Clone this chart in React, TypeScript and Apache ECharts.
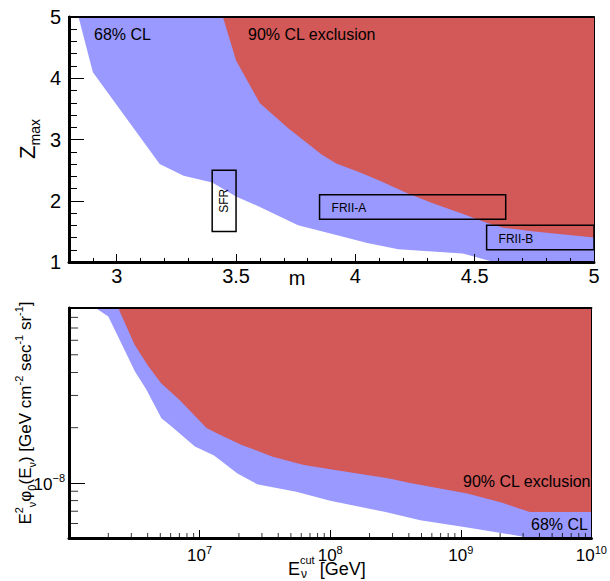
import React, { useEffect, useRef } from "react";
import * as echarts from "echarts";

// ---------- top panel: Zmax vs m ----------
const topBlueM = [2.84, 2.9, 3.18, 3.28, 3.4, 3.5, 3.6, 3.76, 3.92, 4.05, 4.18, 4.45, 4.58, 5.0];
const topBlueZ = [5.0, 4.1, 2.6, 2.41, 2.3, 2.07, 1.9, 1.6, 1.44, 1.31, 1.21, 1.14, 1.0, 1.0];
const topRedM = [3.445, 3.5, 3.6, 3.72, 3.86, 3.92, 4.02, 4.1, 4.22, 4.33, 4.44, 4.55, 4.62, 4.75, 5.0];
const topRedZ = [5.0, 4.29, 3.59, 3.18, 2.75, 2.61, 2.46, 2.33, 2.12, 1.95, 1.8, 1.64, 1.56, 1.5, 1.4];

const boxNames = ["SFR", "FRII-A", "FRII-B"];
const boxM0 = [3.4, 3.85, 4.55];
const boxM1 = [3.5, 4.63, 5.0];
const boxZ0 = [1.5, 1.7, 1.2];
const boxZ1 = [2.5, 2.1, 1.6];

// ---------- bottom panel: flux vs E_cut ----------
const botBlueE = [1.6e6, 2.0e6, 3.2e6, 3.9e6, 5.1e6, 6.1e6, 9.2e6, 1.29e7, 1.95e7, 2.75e7, 5.5e7, 1.0e8, 2.65e8, 4.9e8, 1.12e9, 2.2e9, 3.4e9, 1e10];
const botBlueF = [9e-8, 8.1e-8, 4.05e-8, 3.24e-8, 2.25e-8, 2.03e-8, 1.58e-8, 1.41e-8, 1.125e-8, 9.84e-9, 8.93e-9, 7.98e-9, 6.93e-9, 6.25e-9, 5.7e-9, 5.28e-9, 5.0e-9, 5.0e-9];
const botRedE = [2.38e6, 3.18e6, 3.98e6, 5.07e6, 7.0e6, 1.13e7, 1.39e7, 2.1e7, 3.63e7, 6.28e7, 1.09e8, 2.84e8, 4.0e8, 1.12e9, 2.08e9, 3.37e9, 1e10];
const botRedF = [9e-8, 5.68e-8, 4.41e-8, 3.5e-8, 2.84e-8, 1.99e-8, 1.85e-8, 1.61e-8, 1.39e-8, 1.25e-8, 1.175e-8, 1.057e-8, 1.0e-8, 8.75e-9, 7.78e-9, 6.93e-9, 6.93e-9];

const logXMantissas = [2, 3, 4, 5, 6, 7, 8, 9];
const logXDecades = [1e6, 1e7, 1e8, 1e9];
const logXLabelledExps = [7, 8, 9, 10];
const logYLabelledExps = [-8];
const logYMinorTicks = [6e-9, 7e-9, 8e-9, 9e-9, 2e-8, 3e-8, 4e-8, 5e-8, 6e-8, 7e-8, 8e-8];

const FONT = "Liberation Sans, Arial, sans-serif";
const BLUE = "#9999ff";
const RED = "#d35858";

const zip = (a: number[], b: number[]) => a.map((v, i) => [v, b[i]]);

export default function App() {
  const ref = useRef<HTMLDivElement>(null);
  useEffect(() => {
    if (!ref.current) return;
    const chart = echarts.init(ref.current, null, { renderer: "svg" });

    const xMinor: number[] = [];
    logXDecades.forEach((d) => logXMantissas.forEach((m) => xMinor.push(m * d)));

    const frameLine = (w: number) => ({ show: true, onZero: false, lineStyle: { color: "#000", width: w } });
    const powLabel = (allowed: number[]) => (v: number) => {
      const l = Math.log10(v);
      const e = Math.round(l);
      if (Math.abs(l - e) > 1e-6 || allowed.indexOf(e) < 0) return "";
      return "{b|10}{s|" + String(e).replace("-", "\u2212") + "}";
    };
    const richTick = {
      b: { fontSize: 17, fontFamily: FONT, color: "#000", lineHeight: 20, verticalAlign: "bottom" },
      s: { fontSize: 11, fontFamily: FONT, color: "#000", lineHeight: 9, verticalAlign: "top" },
    };

    const option: any = {
      animation: false,
      grid: [
        { left: 69, top: 17, width: 525, height: 245 },
        { left: 69, top: 308, width: 525, height: 230 },
      ],
      xAxis: [
        {
          type: "value", gridIndex: 0, min: 2.8, max: 5, splitNumber: 5, z: 10,
          axisLine: frameLine(3),
          axisTick: { show: true, inside: true, length: 8, lineStyle: { color: "#000", width: 1 } },
          minorTick: { show: true, splitNumber: 5, length: 4, lineStyle: { color: "#000", width: 1 } },
          splitLine: { show: false },
          axisLabel: { show: true, showMinLabel: false, fontSize: 20, fontFamily: FONT, color: "#000", margin: 4 },
        },
        {
          type: "value", gridIndex: 0, min: 2.8, max: 5, position: "top", z: 10,
          axisLine: frameLine(2), axisTick: { show: false }, axisLabel: { show: false }, splitLine: { show: false },
        },
        {
          type: "log", gridIndex: 1, min: 1e6, max: 1e10, logBase: 10, z: 10,
          axisLine: frameLine(3),
          axisTick: { show: true, inside: true, length: 8, lineStyle: { color: "#000", width: 1 } },
          splitLine: { show: false },
          axisLabel: { show: true, margin: 6, formatter: powLabel(logXLabelledExps), rich: richTick },
        },
        {
          type: "log", gridIndex: 1, min: 1e6, max: 1e10, position: "top", z: 10,
          axisLine: frameLine(2), axisTick: { show: false }, axisLabel: { show: false }, splitLine: { show: false },
        },
      ],
      yAxis: [
        {
          type: "value", gridIndex: 0, min: 1, max: 5, interval: 1, position: "left", z: 10,
          axisLine: frameLine(3),
          axisTick: { show: true, inside: true, length: 15, lineStyle: { color: "#000", width: 1 } },
          minorTick: { show: true, splitNumber: 5, length: 8, lineStyle: { color: "#000", width: 1 } },
          splitLine: { show: false },
          axisLabel: { show: true, fontSize: 20, fontFamily: FONT, color: "#000", margin: 8 },
        },
        {
          type: "value", gridIndex: 0, min: 1, max: 5, position: "right", z: 10,
          axisLine: frameLine(1), axisTick: { show: false }, axisLabel: { show: false }, splitLine: { show: false },
        },
        {
          type: "log", gridIndex: 1, min: 5e-9, max: 9e-8, logBase: 10, position: "left", z: 10,
          axisLine: frameLine(3),
          axisTick: { show: true, inside: true, length: 16, lineStyle: { color: "#000", width: 1 } },
          splitLine: { show: false },
          axisLabel: { show: true, margin: 4, formatter: powLabel(logYLabelledExps), rich: richTick },
        },
        {
          type: "log", gridIndex: 1, min: 5e-9, max: 9e-8, position: "right", z: 10,
          axisLine: frameLine(1), axisTick: { show: false }, axisLabel: { show: false }, splitLine: { show: false },
        },
      ],
      series: [
        {
          type: "line", xAxisIndex: 0, yAxisIndex: 0, data: zip(topBlueM, topBlueZ), showSymbol: false, silent: true,
          lineStyle: { width: 0 }, areaStyle: { color: BLUE, opacity: 1, origin: "end" },
        },
        {
          type: "line", xAxisIndex: 0, yAxisIndex: 0, data: zip(topRedM, topRedZ), showSymbol: false, silent: true,
          lineStyle: { width: 0 }, areaStyle: { color: RED, opacity: 1, origin: "end" },
        },
        {
          type: "custom", xAxisIndex: 0, yAxisIndex: 0, silent: true, z: 5,
          data: boxNames.map((_, i) => [boxM0[i], boxM1[i], boxZ0[i], boxZ1[i], i]),
          encode: { x: [0, 1], y: [2, 3] },
          renderItem: (params: any, api: any) => {
            const p0 = api.coord([api.value(0), api.value(3)]);
            const p1 = api.coord([api.value(1), api.value(2)]);
            const w = p1[0] - p0[0];
            const h = p1[1] - p0[1];
            const name = boxNames[api.value(4)];
            const vertical = h > w;
            return {
              type: "group",
              children: [
                { type: "rect", shape: { x: p0[0], y: p0[1], width: w, height: h }, style: { fill: "none", stroke: "#000", lineWidth: 1.5 } },
                vertical
                  ? { type: "text", x: p0[0] + w / 2, y: p0[1] + h / 2, rotation: Math.PI / 2,
                      style: { text: name, fontSize: 12, fontFamily: FONT, fill: "#000", align: "center", verticalAlign: "middle" } }
                  : { type: "text", x: p0[0] + 12, y: p0[1] + h / 2 + 1,
                      style: { text: name, fontSize: 12, fontFamily: FONT, fill: "#000", align: "left", verticalAlign: "middle" } },
              ],
            };
          },
        },
        {
          type: "line", xAxisIndex: 2, yAxisIndex: 2, data: zip(botBlueE, botBlueF), showSymbol: false, silent: true,
          lineStyle: { width: 0 }, areaStyle: { color: BLUE, opacity: 1, origin: "end" },
        },
        {
          type: "line", xAxisIndex: 2, yAxisIndex: 2, data: zip(botRedE, botRedF), showSymbol: false, silent: true,
          lineStyle: { width: 0 }, areaStyle: { color: RED, opacity: 1, origin: "end" },
        },
        {
          type: "scatter", xAxisIndex: 2, yAxisIndex: 2, silent: true, clip: false, z: 12,
          data: xMinor.map((v) => [v, 5e-9]),
          symbol: "rect", symbolSize: [1, 4], symbolOffset: [0, -3],
          itemStyle: { color: "#000" },
        },
        {
          type: "scatter", xAxisIndex: 2, yAxisIndex: 2, silent: true, clip: false, z: 12,
          data: logYMinorTicks.map((v) => [1e6, v]),
          symbol: "rect", symbolSize: [8, 1], symbolOffset: [5, 0],
          itemStyle: { color: "#000" },
        },
      ],
      graphic: [
        { type: "text", x: 94, y: 34, style: { text: "68% CL", fontSize: 16, fontFamily: FONT, fill: "#000", verticalAlign: "middle" }, z: 20 },
        { type: "text", x: 248, y: 34, style: { text: "90% CL exclusion", fontSize: 16, fontFamily: FONT, fill: "#000", verticalAlign: "middle" }, z: 20 },
        { type: "text", x: 463, y: 481, style: { text: "90% CL exclusion", fontSize: 16, fontFamily: FONT, fill: "#000", verticalAlign: "middle" }, z: 20 },
        { type: "text", x: 531, y: 524, style: { text: "68% CL", fontSize: 16, fontFamily: FONT, fill: "#000", verticalAlign: "middle" }, z: 20 },
        { type: "text", x: 297, y: 278, style: { text: "m", fontSize: 20, fontFamily: FONT, fill: "#000", align: "center", verticalAlign: "middle" }, z: 20 },
        {
          type: "text", x: 29, y: 139, rotation: Math.PI / 2, z: 20,
          style: {
            text: "{z|Z}{m|max}", align: "center", verticalAlign: "middle",
            rich: {
              z: { fontSize: 22, fontFamily: FONT, fill: "#000", lineHeight: 26, verticalAlign: "top" },
              m: { fontSize: 14, fontFamily: FONT, fill: "#000", lineHeight: 14, verticalAlign: "bottom" },
            },
          },
        },
        {
          type: "text", x: 288, y: 566, z: 20,
          style: {
            text: "{b|E}{p|cut}{b| [GeV]}", align: "left", verticalAlign: "middle",
            rich: {
              b: { fontSize: 18, fontFamily: FONT, fill: "#000", lineHeight: 24, verticalAlign: "bottom" },
              p: { fontSize: 11, fontFamily: FONT, fill: "#000", lineHeight: 8, verticalAlign: "top" },
            },
          },
        },
        { type: "text", x: 301, y: 574, z: 20, style: { text: "\u03bd", fontSize: 12, fontFamily: FONT, fill: "#000", align: "left", verticalAlign: "middle" } },
        {
          type: "text", x: 25, y: 413, rotation: Math.PI / 2, z: 20,
          style: {
            text: "{b|E}{p|2}{s|\u03bd}{b|\u03c6}{s|0}{b|(E}{s|\u03bd}{b|) [GeV cm}{p|-2}{b| sec}{p|-1}{b| sr}{p|-1}{b|]}",
            align: "center", verticalAlign: "middle",
            rich: {
              b: { fontSize: 17, fontFamily: FONT, fill: "#000", lineHeight: 24 },
              p: { fontSize: 11, fontFamily: FONT, fill: "#000", lineHeight: 8, verticalAlign: "top" },
              s: { fontSize: 11, fontFamily: FONT, fill: "#000", lineHeight: 8, verticalAlign: "bottom" },
            },
          },
        },
      ],
    };
    chart.setOption(option);
    return () => chart.dispose();
  }, []);
  return <div ref={ref} style={{ width: 610, height: 581, position: "absolute", left: 0, top: 0 }} />;
}
